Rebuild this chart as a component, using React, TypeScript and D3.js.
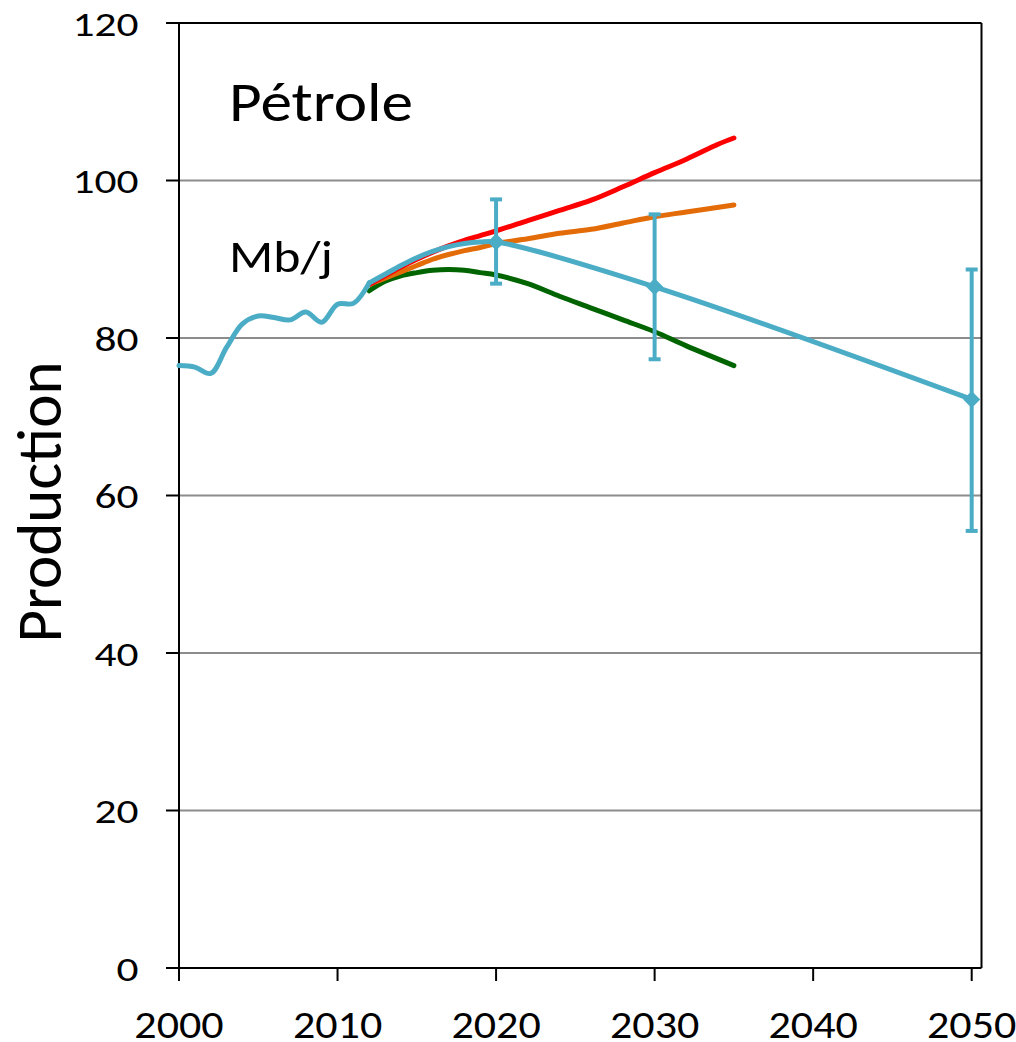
import * as d3 from "d3";

// historical production (Mb/j)
const histYears = [2000, 2001, 2002, 2003, 2004, 2005, 2006, 2007, 2008, 2009, 2010, 2011, 2012];
const histValues = [76.5, 76.3, 75.5, 78.8, 81.8, 82.8, 82.6, 82.3, 83.3, 82.0, 84.3, 84.4, 87.0];

// central projection (blue)
const projYears = [2012, 2013, 2014, 2015, 2016, 2017, 2018, 2019, 2020, 2030, 2050];
const projValues = [87.0, 88.1, 89.2, 90.2, 91.0, 91.6, 92.0, 92.2, 92.2, 86.5, 72.2];

// scenario curves
const highYears = [2012, 2013, 2014, 2015, 2016, 2017, 2018, 2019, 2020, 2022, 2024, 2026, 2028, 2030, 2032, 2034, 2035];
const highValues = [86.8, 87.9, 89.0, 90.0, 90.9, 91.7, 92.4, 93.0, 93.6, 94.9, 96.2, 97.5, 99.2, 101.0, 102.7, 104.6, 105.4];

const midYears = [2012, 2013, 2014, 2015, 2016, 2017, 2018, 2019, 2020, 2022, 2024, 2026, 2028, 2030, 2032, 2035];
const midValues = [86.8, 87.6, 88.4, 89.2, 90.0, 90.6, 91.1, 91.5, 92.0, 92.6, 93.3, 93.8, 94.6, 95.4, 96.0, 96.9];

const lowYears = [2012, 2013, 2014, 2015, 2016, 2017, 2018, 2019, 2020, 2022, 2024, 2026, 2028, 2030, 2032, 2035];
const lowValues = [86.0, 87.2, 87.9, 88.3, 88.6, 88.7, 88.6, 88.3, 88.0, 86.9, 85.3, 83.8, 82.3, 80.8, 79.0, 76.5];

// markers with error bars
const errYears = [2020, 2030, 2050];
const errValues = [92.2, 86.5, 72.2];
const errHigh = [97.6, 95.7, 88.7];
const errLow = [86.9, 77.3, 55.5];

const yTicks = [0, 20, 40, 60, 80, 100, 120];
const xTicks = [2000, 2010, 2020, 2030, 2040, 2050];

const BLUE = "#4BACC6";
const RED = "#FF0000";
const ORANGE = "#E36C09";
const GREEN = "#006400";
const FONT = "Carlito, Lato, sans-serif";

export default function App() {
  const W = 1016;
  const H = 1042;
  const left = 179;
  const right = 981.5;
  const top = 23;
  const bottom = 968;

  const x = d3.scaleLinear().domain([2000, 2050]).range([left, 971.7]);
  const y = d3.scaleLinear().domain([0, 120]).range([bottom, top]);

  const line = d3
    .line<[number, number]>()
    .x((d) => x(d[0]))
    .y((d) => y(d[1]))
    .curve(d3.curveCatmullRom.alpha(0.5));

  const zip = (a: number[], b: number[]) => a.map((v, i) => [v, b[i]] as [number, number]);

  const series = [
    { pts: zip(lowYears, lowValues), color: GREEN },
    { pts: zip(midYears, midValues), color: ORANGE },
    { pts: zip(highYears, highValues), color: RED },
    { pts: zip(histYears, histValues), color: BLUE },
    { pts: zip(projYears, projValues), color: BLUE },
  ];

  return (
    <svg
      width={W}
      height={H}
      style={{ position: "absolute", left: 0, top: 0, background: "white" }}
    >
      <rect x={0} y={0} width={W} height={H} fill="white" />

      {/* gridlines */}
      {yTicks
        .filter((t) => t > 0 && t < 120)
        .map((t) => (
          <line key={"g" + t} x1={left} x2={right} y1={y(t)} y2={y(t)} stroke="#8c8c8c" strokeWidth={2} />
        ))}

      {/* plot border top/right */}
      <line x1={left} x2={right} y1={top} y2={top} stroke="black" strokeWidth={2} />
      <line x1={right} x2={right} y1={top} y2={bottom} stroke="black" strokeWidth={2} />

      {/* y axis */}
      <line x1={left} x2={left} y1={top} y2={bottom} stroke="black" strokeWidth={2} />
      {yTicks.map((t) => (
        <g key={"y" + t}>
          <line x1={166} x2={left} y1={y(t)} y2={y(t)} stroke="black" strokeWidth={2} />
          <text
            transform={`translate(138.5, ${y(t) + 12.5}) scale(1.24, 1)`}
            textAnchor="end"
            fontFamily={FONT}
            fontSize={35}
            fill="black"
          >
            {t}
          </text>
        </g>
      ))}

      {/* x axis */}
      <line x1={166} x2={right} y1={bottom} y2={bottom} stroke="black" strokeWidth={2} />
      {xTicks.map((t) => (
        <g key={"x" + t}>
          <line x1={x(t)} x2={x(t)} y1={bottom} y2={bottom + 13} stroke="black" strokeWidth={2} />
          <text
            transform={`translate(${x(t)}, 1038) scale(1.13, 1)`}
            textAnchor="middle"
            fontFamily={FONT}
            fontSize={39}
            fill="black"
          >
            {t}
          </text>
        </g>
      ))}

      {/* series */}
      {series.map((s, i) => (
        <path
          key={"s" + i}
          d={line(s.pts) || ""}
          fill="none"
          stroke={s.color}
          strokeWidth={5}
          strokeLinejoin="round"
          strokeLinecap="round"
        />
      ))}

      {/* error bars + diamonds */}
      {errYears.map((yr, i) => {
        const cx = x(yr);
        const cy = y(errValues[i]);
        return (
          <g key={"e" + yr}>
            <line x1={cx} x2={cx} y1={y(errHigh[i])} y2={y(errLow[i])} stroke={BLUE} strokeWidth={4} />
            <line x1={cx - 6} x2={cx + 6} y1={y(errHigh[i])} y2={y(errHigh[i])} stroke={BLUE} strokeWidth={4} />
            <line x1={cx - 6} x2={cx + 6} y1={y(errLow[i])} y2={y(errLow[i])} stroke={BLUE} strokeWidth={4} />
            <path
              d={`M${cx},${cy - 8.5}L${cx + 8.5},${cy}L${cx},${cy + 8.5}L${cx - 8.5},${cy}Z`}
              fill={BLUE}
            />
          </g>
        );
      })}

      {/* labels */}
      <text transform="translate(229, 121) scale(1.15, 1)" fontFamily={FONT} fontSize={55} fill="black">
        Pétrole
      </text>
      <text transform="translate(229, 272) scale(1.15, 1)" fontFamily={FONT} fontSize={45} fill="black">
        Mb/j
      </text>
      <text
        transform={`translate(61, 502) rotate(-90)`}
        textAnchor="middle"
        fontFamily={FONT}
        fontSize={63}
        fill="black"
      >
        Production
      </text>
    </svg>
  );
}
